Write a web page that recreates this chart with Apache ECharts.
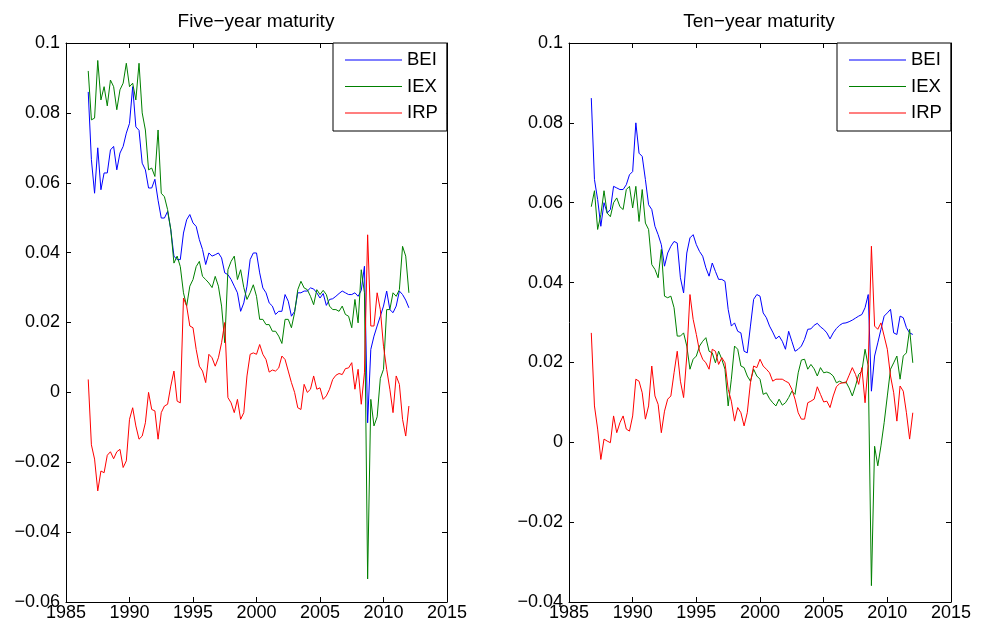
<!DOCTYPE html>
<html>
<head>
<meta charset="utf-8">
<title>Inflation expectations and risk premia</title>
<script src="https://cdn.jsdelivr.net/npm/echarts@6/dist/echarts.min.js"></script>
<style>
  html, body { margin: 0; padding: 0; background: #fff; }
  #main { width: 987px; height: 633px; }
</style>
</head>
<body>
<div id="main"></div>
<script>
// Quarterly observations, first one in the last quarter of 1986.
const firstObservation = 1986.75;
const observationStep = 0.25;

const xTickLabels = ['1985', '1990', '1995', '2000', '2005', '2010', '2015'];
const fiveYearYTicks = ['−0.06', '−0.04', '−0.02', '0', '0.02', '0.04', '0.06', '0.08', '0.1'];
const tenYearYTicks = ['−0.04', '−0.02', '0', '0.02', '0.04', '0.06', '0.08', '0.1'];
const seriesNames = ['BEI', 'IEX', 'IRP'];

// Five-year maturity
const bei5 = [
  0.086, 0.0666, 0.057, 0.070, 0.058, 0.0628, 0.0628, 0.0694, 0.0704, 0.0637,
  0.0685, 0.0704, 0.0742, 0.077, 0.0875, 0.076, 0.075, 0.0656, 0.0637, 0.0585,
  0.0585, 0.061, 0.055, 0.0499, 0.0499, 0.0518, 0.0466, 0.039, 0.038, 0.038,
  0.0456, 0.0494, 0.0509, 0.0485, 0.0475, 0.0437, 0.0409, 0.0366, 0.0399, 0.039,
  0.0394, 0.0399, 0.0385, 0.0342, 0.0337, 0.0323, 0.0304, 0.0285, 0.0232, 0.0256,
  0.0304, 0.038, 0.0399, 0.0399, 0.0342, 0.0299, 0.0285, 0.0256, 0.0247, 0.0223,
  0.0232, 0.0232, 0.028, 0.0261, 0.0218, 0.0232, 0.0285, 0.0285, 0.029, 0.029,
  0.0299, 0.0296, 0.0285, 0.027, 0.0283, 0.0249, 0.0266, 0.0268, 0.0275, 0.0283,
  0.029, 0.0285, 0.028, 0.028, 0.0285, 0.0275, 0.0292, 0.0361, -0.0087, 0.0123,
  0.0161, 0.019, 0.0218, 0.0247, 0.029, 0.0237, 0.0228, 0.0247, 0.029, 0.028,
  0.0264, 0.0242
];
const iex5 = [
  0.092, 0.078, 0.0785, 0.095, 0.0837, 0.0875, 0.082, 0.0894, 0.0875, 0.0809,
  0.0866, 0.0885, 0.0942, 0.0875, 0.0885, 0.0837, 0.0942, 0.080, 0.0751, 0.0637,
  0.0642, 0.0618, 0.0751, 0.057, 0.056, 0.0523, 0.0466, 0.037, 0.039, 0.036,
  0.0285, 0.0247, 0.0304, 0.0323, 0.036, 0.0375, 0.0332, 0.0323, 0.0313, 0.030,
  0.0332, 0.0304, 0.0247, 0.0142, 0.0351, 0.0375, 0.039, 0.0323, 0.0351, 0.030,
  0.0266, 0.0285, 0.0308, 0.0275, 0.0209, 0.0209, 0.0194, 0.0194, 0.0175, 0.0175,
  0.0161, 0.014, 0.0209, 0.0209, 0.0185, 0.0228, 0.0294, 0.0318, 0.0299, 0.0294,
  0.0275, 0.0251, 0.0294, 0.028, 0.0292, 0.028, 0.0247, 0.0237, 0.0237, 0.0232,
  0.0247, 0.0223, 0.0218, 0.0185, 0.0266, 0.0199, 0.0351, 0.0285, -0.0534, -0.002,
  -0.0096, -0.007, 0.004, 0.0066, 0.0237, 0.0237, 0.0285, 0.0275, 0.0294, 0.0418,
  0.039, 0.0285
];
const irp5 = [
  0.0037, -0.015, -0.0191, -0.0282, -0.0225, -0.023, -0.018, -0.017, -0.019, -0.017,
  -0.0163, -0.0215, -0.0196, -0.0077, -0.0044, -0.0096, -0.0134, -0.0125, -0.0087, 0.0,
  -0.0049, -0.0053, -0.0134, -0.0058, -0.0039, -0.0034, 0.0018, 0.0061, -0.0025, -0.003,
  0.027, 0.0247, 0.019, 0.0185, 0.0123, 0.0075, 0.0061, 0.0028, 0.0109, 0.0099,
  0.0075, 0.0099, 0.0142, 0.020, -0.0015, -0.003, -0.0058, -0.002, -0.0077, -0.0058,
  0.0047, 0.0109, 0.0113, 0.0109, 0.0137, 0.0109, 0.0094, 0.0058, 0.0064, 0.0061,
  0.007, 0.0104, 0.0094, 0.0061, 0.0028, 0.0, -0.0044, -0.0049, 0.0023, 0.0,
  0.0009, 0.0047, 0.0009, 0.0013, -0.002, -0.001, 0.0009, 0.0037, 0.0049, 0.0054,
  0.0051, 0.0068, 0.007, 0.0085, 0.0009, 0.0066, -0.0034, 0.0056, 0.0451, 0.019,
  0.019, 0.0285, 0.0237, 0.0132, 0.0066, 0.0009, -0.0058, 0.0047, 0.0023, -0.0077,
  -0.0125, -0.0039
];

// Ten-year maturity
const bei10 = [
  0.0862, 0.0658, 0.0608, 0.0541, 0.060, 0.0574, 0.0583, 0.0641, 0.0637, 0.0633,
  0.0633, 0.0645, 0.067, 0.0678, 0.080, 0.0724, 0.0716, 0.0658, 0.0595, 0.0583,
  0.0541, 0.052, 0.0495, 0.0441, 0.0474, 0.0491, 0.0503, 0.0499, 0.0412, 0.0374,
  0.0474, 0.0512, 0.052, 0.0495, 0.0478, 0.0466, 0.0437, 0.0416, 0.0449, 0.0428,
  0.0408, 0.0408, 0.0403, 0.0333, 0.0291, 0.0299, 0.0278, 0.0274, 0.0228, 0.0224,
  0.0291, 0.0358, 0.037, 0.0366, 0.0324, 0.0312, 0.0291, 0.0276, 0.0259, 0.0266,
  0.0253, 0.0233, 0.0278, 0.0253, 0.0228, 0.0233, 0.0241, 0.0258, 0.0283, 0.0284,
  0.0293, 0.0298, 0.0289, 0.0283, 0.0274, 0.0259, 0.0274, 0.0285, 0.0293, 0.0298,
  0.0299, 0.0302, 0.0306, 0.0311, 0.0316, 0.032, 0.0337, 0.037, 0.0128, 0.0216,
  0.0249, 0.0283, 0.0316, 0.0324, 0.0333, 0.0274, 0.027, 0.0316, 0.0312, 0.0287,
  0.0274, 0.027
];
const iex10 = [
  0.059, 0.063, 0.0533, 0.057, 0.063, 0.0574, 0.0565, 0.060, 0.0612, 0.059,
  0.0583, 0.0633, 0.0641, 0.0587, 0.0641, 0.0553, 0.0633, 0.0549, 0.0533, 0.0445,
  0.0433, 0.0412, 0.0483, 0.0366, 0.0362, 0.0366, 0.0337, 0.0266, 0.0266, 0.0274,
  0.0241, 0.0183, 0.0208, 0.0216, 0.0241, 0.0253, 0.0262, 0.0228, 0.0224, 0.0199,
  0.0228, 0.0208, 0.0183, 0.0091, 0.0158, 0.0241, 0.0233, 0.0191, 0.0187, 0.0166,
  0.0153, 0.0183, 0.0166, 0.0158, 0.012, 0.0124, 0.0109, 0.0099, 0.0091, 0.0108,
  0.0093, 0.0099, 0.0112, 0.0128, 0.012, 0.0174, 0.0206, 0.0208, 0.0183, 0.0195,
  0.0184, 0.0166, 0.0187, 0.0174, 0.0176, 0.0173, 0.0166, 0.0149, 0.0153, 0.0149,
  0.0151, 0.0136, 0.0116, 0.0141, 0.017, 0.0178, 0.0233, 0.0191, -0.0359, -0.001,
  -0.0059, -0.0009, 0.0049, 0.0116, 0.0183, 0.0199, 0.0216, 0.0158, 0.0216, 0.0224,
  0.0283, 0.0199
];
const irp10 = [
  0.0274, 0.0091, 0.0033, -0.0043, 0.0008, 0.0003, -0.0001, 0.0066, 0.0024, 0.0049,
  0.0066, 0.0033, 0.0028, 0.0066, 0.0158, 0.0153, 0.0124, 0.0058, 0.0091, 0.0191,
  0.0116, 0.0095, 0.0024, 0.0078, 0.0108, 0.0116, 0.0174, 0.0228, 0.0153, 0.0112,
  0.0216, 0.037, 0.0308, 0.027, 0.0228, 0.0208, 0.0199, 0.0183, 0.0233, 0.0228,
  0.0195, 0.0212, 0.0199, 0.0133, 0.0103, 0.0053, 0.0087, 0.0074, 0.0041, 0.0074,
  0.0149, 0.0191, 0.0187, 0.0208, 0.0191, 0.0183, 0.0174, 0.0153, 0.0158, 0.0158,
  0.0158, 0.0153, 0.0149, 0.0133, 0.0108, 0.0074, 0.0058, 0.0058, 0.0099, 0.0103,
  0.0108, 0.0139, 0.012, 0.0101, 0.0103, 0.0087, 0.0116, 0.0139, 0.0147, 0.0149,
  0.0149, 0.0168, 0.0187, 0.017, 0.0145, 0.0187, 0.0099, 0.0195, 0.0491, 0.0291,
  0.0283, 0.0299, 0.0266, 0.0233, 0.0166, 0.0124, 0.0053, 0.0141, 0.0128, 0.0074,
  0.0008, 0.0074
];

const observationDates = bei5.map((_, i) => firstObservation + i * observationStep);

const FONT = '"Liberation Sans", Arial, Helvetica, sans-serif';
const INK = '#000000';
const COLORS = { BEI: '#0000ff', IEX: '#008000', IRP: '#ff0000' };

const X_MIN = 1985, X_MAX = 2015, X_STEP = 5, Y_STEP = 0.02;
const TICK_FONT = 18;
const TEXT_FONT = 18.5;
const TITLE_FONT = 19;

function pairs(values) {
  return values.map((v, i) => [observationDates[i], v]);
}

function labelFrom(list, min, step) {
  return (v) => list[Math.round((v - min) / step)] ?? '';
}

function xAxisPair(gridIndex) {
  const common = {
    type: 'value', gridIndex, min: X_MIN, max: X_MAX, interval: X_STEP,
    axisLine: { show: true, onZero: false, lineStyle: { color: INK, width: 1 } },
    axisTick: { show: true, inside: true, length: 5, lineStyle: { color: INK, width: 1 } },
    splitLine: { show: false }
  };
  return [
    Object.assign({}, common, {
      position: 'bottom',
      axisLabel: {
        color: INK, fontSize: TICK_FONT, fontFamily: FONT, margin: 2,
        formatter: labelFrom(xTickLabels, X_MIN, X_STEP)
      }
    }),
    Object.assign({}, common, { position: 'top', axisLabel: { show: false } })
  ];
}

function yAxisPair(gridIndex, min, max, labels) {
  const common = {
    type: 'value', gridIndex, min, max, interval: Y_STEP,
    axisLine: { show: true, onZero: false, lineStyle: { color: INK, width: 1 } },
    axisTick: { show: true, inside: true, length: 5, lineStyle: { color: INK, width: 1 } },
    splitLine: { show: false }
  };
  return [
    Object.assign({}, common, {
      position: 'left',
      axisLabel: {
        color: INK, fontSize: TICK_FONT, fontFamily: FONT, margin: 6,
        formatter: labelFrom(labels, min, Y_STEP)
      }
    }),
    Object.assign({}, common, { position: 'right', axisLabel: { show: false } })
  ];
}

function lineSeries(name, values, axisIndex) {
  return {
    name, type: 'line', data: pairs(values),
    xAxisIndex: axisIndex, yAxisIndex: axisIndex,
    symbol: 'none', showSymbol: false, smooth: false,
    lineStyle: { color: COLORS[name], width: 1 },
    itemStyle: { color: COLORS[name] },
    emphasis: { disabled: true },
    animation: false
  };
}

function legendBox(left) {
  return {
    data: seriesNames, orient: 'vertical', left, top: 43,
    icon: 'rect', itemWidth: 57, itemHeight: 1, itemGap: 7.5,
    padding: [7.5, 9, 8.5, 12],
    backgroundColor: '#ffffff', borderColor: INK, borderWidth: 1, borderRadius: 0,
    textStyle: { color: INK, fontSize: TEXT_FONT, fontFamily: FONT },
    selectedMode: false
  };
}

function panelTitle(text, centerX) {
  return {
    text, left: centerX, top: 12, padding: 0, textAlign: 'center',
    textStyle: { color: INK, fontSize: TITLE_FONT, fontWeight: 'normal', fontFamily: FONT }
  };
}

const chart = echarts.init(document.getElementById('main'), null, { renderer: 'canvas' });

chart.setOption({
  backgroundColor: '#ffffff',
  animation: false,
  title: [
    panelTitle('Five−year maturity', 256),
    panelTitle('Ten−year maturity', 759)
  ],
  grid: [
    { left: 66, top: 43, width: 381, height: 559 },
    { left: 569, top: 43, width: 382, height: 559 }
  ],
  xAxis: [...xAxisPair(0), ...xAxisPair(1)],
  yAxis: [
    ...yAxisPair(0, -0.06, 0.1, fiveYearYTicks),
    ...yAxisPair(1, -0.04, 0.1, tenYearYTicks)
  ],
  legend: [legendBox(333), legendBox(837)],
  series: [
    lineSeries('BEI', bei5, 0),
    lineSeries('IEX', iex5, 0),
    lineSeries('IRP', irp5, 0),
    lineSeries('BEI', bei10, 2),
    lineSeries('IEX', iex10, 2),
    lineSeries('IRP', irp10, 2)
  ]
});
</script>
</body>
</html>
